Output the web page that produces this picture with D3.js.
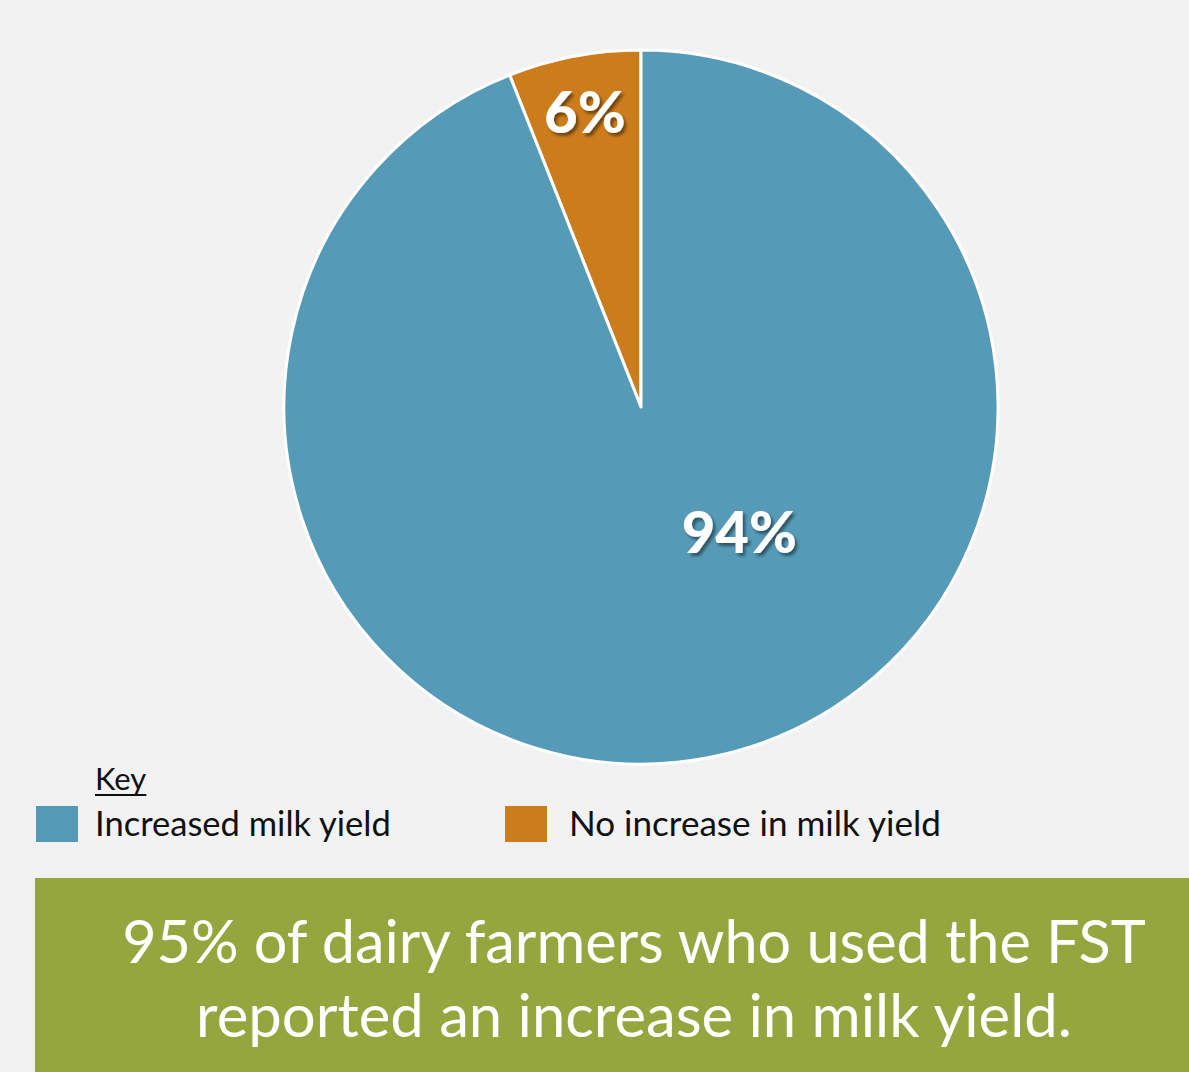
<!DOCTYPE html>
<html><head><meta charset="utf-8">
<script src="https://cdn.jsdelivr.net/npm/d3@7"></script>
<style>html,body{margin:0;padding:0;background:#f2f2f2;overflow:hidden}</style>
</head><body>
<svg id="c" width="1189" height="1072"></svg>
<script>
const categories = ["No increase in milk yield", "Increased milk yield"];
const values = [6, 94];
const labels = ["6%", "94%"];
const colors = ["#cd7c1b", "#559bb8"];
const legendOrder = ["Increased milk yield", "No increase in milk yield"];
const keyTitle = "Key";
const captionLines = ["95% of dairy farmers who used the FST", "reported an increase in milk yield."];

const W = 1189, H = 1072;
const svg = d3.select("#c");
svg.append("rect").attr("width", W).attr("height", H).attr("fill", "#f2f2f2");

const defs = svg.append("defs");
const f = defs.append("filter").attr("id", "sh").attr("x", "-20%").attr("y", "-20%").attr("width", "140%").attr("height", "140%");
f.append("feDropShadow").attr("dx", 2.5).attr("dy", 3).attr("stdDeviation", 1.5).attr("flood-color", "#000").attr("flood-opacity", 0.45);

const cx = 641, cy = 407, R = 357;
const color = d3.scaleOrdinal().domain(categories).range(colors);
// orange slice sits counter-clockwise from 12 o'clock
const pie = d3.pie().sort(null).value(d => d.v).startAngle(-values[0] / 100 * 2 * Math.PI).endAngle(2 * Math.PI - values[0] / 100 * 2 * Math.PI);
const data = categories.map((c, i) => ({c, v: values[i], l: labels[i]}));
const arcs = pie(data);
const arc = d3.arc().innerRadius(0).outerRadius(R);

const g = svg.append("g").attr("transform", `translate(${cx},${cy})`);
g.selectAll("path").data(arcs).enter().append("path")
  .attr("d", arc).attr("fill", d => color(d.data.c))
  .attr("stroke", "#fff").attr("stroke-width", 3).attr("stroke-linejoin", "round");

// label positions: fraction of radius and angular placement within slice
const labelR = [0.84, 0.445];
const labelT = [0.5, 0.419];
g.selectAll("text.lab").data(arcs).enter().append("text").attr("class", "lab")
  .attr("x", (d, i) => { const a = d.startAngle + (d.endAngle - d.startAngle) * labelT[i]; return Math.sin(a) * R * labelR[i]; })
  .attr("y", (d, i) => { const a = d.startAngle + (d.endAngle - d.startAngle) * labelT[i]; return -Math.cos(a) * R * labelR[i]; })
  .attr("dy", "0.36em")
  .attr("text-anchor", "middle")
  .attr("font-family", "Lato, 'Open Sans', sans-serif").attr("font-weight", 900)
  .attr("font-size", 58).attr("fill", "#fff").attr("filter", "url(#sh)")
  .text(d => d.data.l);

// legend
const lf = "Lato, 'Open Sans', sans-serif";
const kt = svg.append("text").attr("x", 95).attr("y", 790).attr("font-family", lf).attr("font-size", 31).attr("fill", "#111").text(keyTitle);
const kw = kt.node().getComputedTextLength();
svg.append("line").attr("x1", 95).attr("x2", 95 + kw).attr("y1", 795).attr("y2", 795).attr("stroke", "#111").attr("stroke-width", 2);

const legX = [36, 505], textX = [95, 569], textW = [296, 372];
legendOrder.forEach((c, i) => {
  svg.append("rect").attr("x", legX[i]).attr("y", 806).attr("width", 42).attr("height", 36).attr("fill", color(c));
  const t = svg.append("text").attr("x", textX[i]).attr("y", 836).attr("font-family", lf).attr("font-size", 32).attr("fill", "#111").text(c);
  const w = t.node().getComputedTextLength();
  t.attr("font-size", 32 * textW[i] / w);
});

// caption box
svg.append("rect").attr("x", 35).attr("y", 878).attr("width", W - 35).attr("height", H - 878).attr("fill", "#95a63e");
const capW = [1024, 876], capY = [963, 1037];
captionLines.forEach((s, i) => {
  const t = svg.append("text").attr("x", 634).attr("y", capY[i]).attr("text-anchor", "middle")
    .attr("font-family", lf).attr("font-size", 56).attr("fill", "#fff").text(s);
  const w = t.node().getComputedTextLength();
  t.attr("font-size", Math.min(60, 56 * capW[i] / w));
  const w2 = t.node().getComputedTextLength();
  if (Math.abs(w2 - capW[i]) > 6) t.attr("textLength", capW[i]).attr("lengthAdjust", "spacingAndGlyphs");
});
</script>
</body></html>
